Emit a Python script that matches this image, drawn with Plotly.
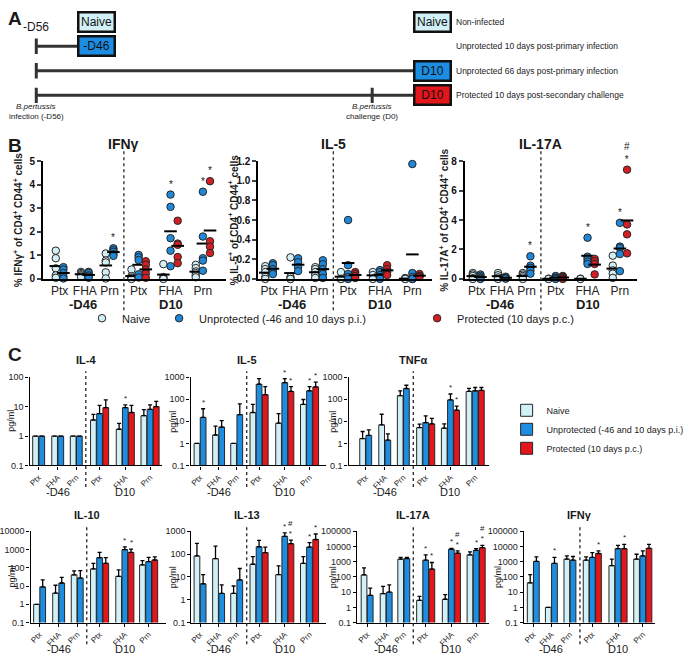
import plotly.graph_objects as go
import numpy as np

W, H = 689, 660
FONT = "Arial, Liberation Sans, sans-serif"

def PX(p):
    return p / W

def PY(p):
    return 1 - p / H

# ======================= DATA =======================
groups = ["Ptx", "FHA", "Prn", "Ptx", "FHA", "Prn"]
timepoints = ["-D46", "D10"]
series_names = ["Naive", "Unprotected (-46 and 10 days p.i.)", "Protected (10 days p.c.)"]

# ---- Panel A: study design ----
design_labels = ["Non-infected", "Unprotected 10 days post-primary infection",
                 "Unprotected 66 days post-primary infection",
                 "Protected 10 days post-secondary challenge"]
infection_day = [None, -56, -56, -56]
harvest_day = [None, -46, 10, 10]
challenge_day = [None, None, None, 0]
harvest_box = ["Naive", "-D46", "D10", "D10"]
naive_box_days = [-46, 10]

# ---- Panel B: % cytokine+ of CD4+CD44+ cells (columns: -D46 Ptx,FHA,Prn ; D10 Ptx,FHA,Prn) ----
ifng_naive = [[1.2, 0.88, 0.45, 0.15, 0.05], [0.3, 0.25, 0.2, 0.15, 0.1],
              [1.08, 0.78, 0.7, 0.28, 0.02], [0.4, 0.12, 0.06, 0.02, 0.0],
              [0.63, 0.08, 0.03, 0.0], [0.6, 0.46, 0.32, 0.25, 0.15, 0.07]]
ifng_unprot = [[0.5, 0.4, 0.25, 0.1, 0.02], [0.3, 0.25, 0.15, 0.1, 0.05],
               [1.3, 1.22, 1.15, 1.05, 0.98], [1.02, 0.92, 0.8, 0.2, 0.06],
               [3.58, 3.06, 1.73, 1.2, 0.54], [3.7, 1.8, 0.88, 0.78, 0.35]]
ifng_prot = [[0.75, 0.6, 0.4, 0.23, 0.05], [2.47, 1.5, 1.45, 0.93, 0.67],
             [4.15, 1.6, 1.37, 1.1]]
ifng_sig = [(2, 1, "*"), (4, 1, "*"), (5, 1, "*"), (5, 2, "*")]

il5_naive = [[0.13, 0.1, 0.07, 0.02, 0.0], [0.22, 0.02, 0.0, 0.0],
             [0.12, 0.1, 0.07, 0.04, 0.01], [0.07, 0.0, 0.0],
             [0.07, 0.04, 0.0], [0.01, 0.0, 0.0]]
il5_unprot = [[0.16, 0.14, 0.1, 0.07, 0.05], [0.21, 0.17, 0.12, 0.08],
              [0.19, 0.15, 0.1, 0.05, 0.01], [0.6, 0.14, 0.05, 0.02, 0.0],
              [0.09, 0.07, 0.04, 0.02, 0.0], [1.17, 0.06, 0.02, 0.0, 0.0]]
il5_prot = [[0.07, 0.05, 0.03, 0.01], [0.14, 0.1, 0.07, 0.04], [0.05, 0.03, 0.02]]
il5_sig = []

il17_naive = [[0.4, 0.3, 0.2, 0.05, 0.0], [0.4, 0.25, 0.1, 0.0],
              [0.4, 0.3, 0.2, 0.1, 0.0], [0.02, 0.0], [0.02, 0.0],
              [1.58, 0.91, 0.58, 0.36, 0.07]]
il17_unprot = [[0.3, 0.2, 0.1, 0.05, 0.0], [0.15, 0.1, 0.05, 0.02],
               [1.54, 0.9, 0.76, 0.58, 0.36], [0.2, 0.1, 0.05, 0.0],
               [2.8, 1.51, 1.36, 1.18, 1.02], [3.81, 2.2, 2.1, 1.69, 0.53]]
il17_prot = [[0.2, 0.15, 0.1, 0.05, 0.0], [1.36, 1.2, 1.02, 0.31], [7.42, 3.7, 3.03, 1.74]]
il17_sig = [(2, 1, "*"), (4, 1, "*"), (5, 1, "*"), (5, 2, "#<br>*")]

ifng_ticks = [0, 1, 2, 3, 4, 5]
il5_ticks = [0.0, 0.2, 0.4, 0.6, 0.8, 1.0, 1.2]
il17_ticks = [0, 2, 4, 6, 8]

# ---- Panel C: cytokine secretion, pg/ml (mean and SEM) ----
c_il4_naive = [1, 1, 1, 3.5, 1.7, 4.9];        c_il4_naive_sem = [0, 0, 0, 1.9, 1.0, 3.0]
c_il4_unprot = [1, 1, 1, 5.8, 9.2, 8.1];       c_il4_unprot_sem = [0, 0, 0, 5.2, 2.3, 3.4]
c_il4_prot = [9.2, 6.3, 10];                   c_il4_prot_sem = [7.8, 4.7, 5]
c_il4_sig = [(4, 1, "*")]

c_il5_naive = [1, 2.4, 1, 25, 8.2, 58];        c_il5_naive_sem = [0, 3.6, 0, 33, 14, 39]
c_il5_unprot = [15, 5.5, 20, 475, 560, 240];   c_il5_unprot_sem = [22, 5.2, 42, 375, 290, 130]
c_il5_prot = [160, 225, 360];                  c_il5_prot_sem = [210, 145, 240]
c_il5_sig = [(0, 1, "*"), (4, 1, "*"), (4, 2, "*"), (5, 1, "*"), (5, 2, "*")]

c_tnf_naive = [1.66, 6.9, 145, 5.2, 4.9, 225];  c_tnf_naive_sem = [1.8, 14, 95, 2.2, 2.7, 85]
c_tnf_unprot = [2.3, 1.4, 306, 8.7, 93, 240];   c_tnf_unprot_sem = [1.8, 1.3, 124, 9, 79, 100]
c_tnf_prot = [7.6, 31.6, 250];                  c_tnf_prot_sem = [5.9, 17, 90]
c_tnf_sig = [(4, 1, "*"), (4, 2, "*")]

c_il10_naive = [1, 4.1, 41, 87, 34, 144];        c_il10_naive_sem = [0, 7, 27, 89, 43, 102]
c_il10_unprot = [9, 14.7, 27.5, 356, 1000, 217]; c_il10_unprot_sem = [13, 15, 43, 334, 400, 155]
c_il10_prot = [176, 690, 268];                   c_il10_prot_sem = [180, 360, 132]
c_il10_sig = [(4, 1, "*"), (4, 2, "*")]

c_il13_naive = [83, 63, 1.9, 36, 12.6, 39];      c_il13_naive_sem = [212, 161, 2.1, 42, 18, 39]
c_il13_unprot = [5, 1.9, 7.4, 210, 600, 204];    c_il13_unprot_sem = [7.6, 2.6, 16, 190, 250, 112]
c_il13_prot = [116, 285, 436];                   c_il13_prot_sem = [88, 125, 324]
c_il13_sig = [(4, 1, "*"), (4, 2, "#<br>*"), (5, 1, "*"), (5, 2, "*")]

c_il17_naive = [135, 8, 1480, 2.9, 3.4, 2800];      c_il17_naive_sem = [255, 16, 420, 2.4, 3.5, 1600]
c_il17_unprot = [6.2, 10, 1630, 1260, 6600, 5600];  c_il17_unprot_sem = [12.4, 20, 270, 1540, 1000, 1600]
c_il17_prot = [330, 3600, 8300];                    c_il17_prot_sem = [560, 1500, 3700]
c_il17_sig = [(3, 1, "*"), (3, 2, "*"), (4, 1, "*"), (4, 2, "#<br>*"), (5, 1, "*"), (5, 2, "#<br>*")]

c_ifng_naive = [41, 1, 1480, 1260, 550, 1480];      c_ifng_naive_sem = [101, 0, 920, 840, 930, 1620]
c_ifng_unprot = [1050, 776, 1260, 1900, 7200, 2400]; c_ifng_unprot_sem = [1050, 1124, 940, 2100, 4800, 2700]
c_ifng_prot = [3460, 7200, 7600];                   c_ifng_prot_sem = [1640, 6600, 6200]
c_ifng_sig = [(1, 1, "*"), (3, 2, "*"), (4, 2, "*")]

log_ticks = [0.1, 1, 10, 100, 1000, 10000, 100000]
log_tick_text = ["0.1", "1", "10", "100", "1000", "10000", "100000"]

# ======================= STYLE =======================
C_NAIVE = "#d2f1f7"
C_BLUE = "#1d8de2"
C_RED = "#e3161c"
B_COLORS = ["#d4eef5", "#1f88d8", "#d11f25"]
BAR_COLORS = [C_NAIVE, C_BLUE, C_RED]
EDGE = "#262626"
DASH = "3px,3px"

fig = go.Figure()
annotations = []
shapes = []
layout = dict(width=W, height=H, margin=dict(l=0, r=0, t=0, b=0, pad=0),
              paper_bgcolor="white", plot_bgcolor="rgba(0,0,0,0)",
              font=dict(family=FONT, color="#1a1a1a"), barmode="overlay",
              showlegend=True, hovermode=False)


def ann(x, y, text, size=10, bold=False, xanchor="center", yanchor="middle", **kw):
    t = f"<b>{text}</b>" if bold else text
    d = dict(x=x, y=y, xref=kw.pop("xref", "paper"), yref=kw.pop("yref", "paper"), text=t,
             showarrow=False, font=dict(size=size, family=FONT, color=kw.pop("color", "#1a1a1a")),
             xanchor=xanchor, yanchor=yanchor)
    d.update(kw)
    annotations.append(d)


# ======================= PANEL A =======================
PX_PER_DAY = 6.3
A_X0 = 36  # pixel of day -56
a_range = [-56 - A_X0 / PX_PER_DAY, -56 + (W - A_X0) / PX_PER_DAY]
ROW_PX0, ROW_STEP = 16, 25
a_ytop, a_ybot = 0, 120
a_yrange = [1 + (a_ybot - ROW_PX0) / ROW_STEP, 1 + (a_ytop - ROW_PX0) / ROW_STEP]
layout["xaxis"] = dict(domain=[0, 1], range=a_range, visible=False, fixedrange=True)
layout["yaxis"] = dict(domain=[PY(a_ybot), PY(a_ytop)], range=a_yrange, visible=False, fixedrange=True)

for r in range(4):
    row = r + 1
    if infection_day[r] is not None:
        fig.add_trace(go.Scatter(x=[infection_day[r], harvest_day[r]], y=[row, row], mode="lines",
                                 line=dict(color="#333333", width=3), showlegend=False,
                                 xaxis="x", yaxis="y", hoverinfo="skip"))
        ticks = [infection_day[r]] + ([challenge_day[r]] if challenge_day[r] is not None else [])
        fig.add_trace(go.Scatter(x=ticks, y=[row] * len(ticks), mode="markers",
                                 marker=dict(symbol="line-ns", size=11, line=dict(color="#333333", width=3)),
                                 showlegend=False, xaxis="x", yaxis="y", hoverinfo="skip"))
    ann(475 / W, row, design_labels[r], size=8.5, xanchor="left", yref="y", color="#222222")

for d in naive_box_days:
    annotations.append(dict(x=d, y=1, xref="x", yref="y", text="Naive", showarrow=False,
                            font=dict(size=12, family=FONT, color="#111"), bgcolor=C_NAIVE,
                            bordercolor="#111111", borderwidth=2.5, borderpad=1, width=32, height=15))
for r in range(1, 4):
    fill = C_RED if challenge_day[r] is not None else C_BLUE
    annotations.append(dict(x=harvest_day[r], y=r + 1, xref="x", yref="y", text=harvest_box[r],
                            showarrow=False, font=dict(size=12, family=FONT, color="#111"), bgcolor=fill,
                            bordercolor="#111111", borderwidth=2.5, borderpad=1, width=32, height=15))

ann(-56, PY(21), "-D56", size=12, xref="x")
ann(-56, PY(102), "<i>B.pertussis</i>", size=8, xref="x")
ann(-56, PY(113), "infection (-D56)", size=8, xref="x")
ann(0, PY(102), "<i>B.pertussis</i>", size=8, xref="x")
ann(0, PY(113), "challenge (D0)", size=8, xref="x")

# panel letters
ann(PX(4), PY(13), "A", size=19, bold=True, xanchor="left")
ann(PX(4), PY(142), "B", size=19, bold=True, xanchor="left")
ann(PX(4), PY(355), "C", size=19, bold=True, xanchor="left")

# ======================= PANEL B =======================
B_TOP, B_BOT = 158, 278
B_GROUP_OFF = [-67.5, -41, -15, 15.5, 49, 83]
b_specs = [
    dict(title="IFNγ", ylab="% IFNγ<sup>+</sup> of CD4<sup>+</sup> CD44<sup>+</sup> cells",
         data=[ifng_naive, ifng_unprot, ifng_prot], sig=ifng_sig, ticks=ifng_ticks, fmt="{:g}",
         dash=128, x0=43, x1=235, ylx=17),
    dict(title="IL-5", ylab="% IL-5<sup>+</sup> of CD4<sup>+</sup> CD44<sup>+</sup> cells",
         data=[il5_naive, il5_unprot, il5_prot], sig=il5_sig, ticks=il5_ticks, fmt="{:.1f}",
         dash=348, x0=269, x1=452, ylx=243),
    dict(title="IL-17A", ylab="% IL-17A<sup>+</sup> of CD4<sup>+</sup> CD44<sup>+</sup> cells",
         data=[il17_naive, il17_unprot, il17_prot], sig=il17_sig, ticks=il17_ticks, fmt="{:g}",
         dash=566, x0=486, x1=667, ylx=464),
]
legend_ids = ["legend", "legend2", "legend3"]

for i, sp in enumerate(b_specs):
    n = 2 + i
    xa, ya = f"x{n}", f"y{n}"
    centers = [sp["dash"] + o for o in B_GROUP_OFF]

    def col_x(g, s, centers=centers):
        if g < 3:
            return centers[g] + (-4 if s == 0 else 4)
        return centers[g] + (s - 1) * 7.5

    layout[f"xaxis{n}"] = dict(domain=[PX(sp["x0"]), PX(sp["x1"])], range=[sp["x0"], sp["x1"]],
                               anchor=ya, showline=True, linewidth=1.6, linecolor="black",
                               ticks="", tickvals=centers, ticktext=groups, showgrid=False,
                               zeroline=False, tickfont=dict(size=12, color="#222"), fixedrange=True)
    layout[f"yaxis{n}"] = dict(domain=[PY(B_BOT), PY(B_TOP)], range=[0, max(sp["ticks"])], anchor=xa,
                               showline=True, linewidth=1.6, linecolor="black", ticks="outside",
                               ticklen=4, tickwidth=1.5, tickvals=sp["ticks"],
                               ticktext=["<b>" + sp["fmt"].format(v) + "</b>" for v in sp["ticks"]],
                               showgrid=False, zeroline=False,
                               tickfont=dict(size=10, color="#111"), fixedrange=True)
    for s, data in enumerate(sp["data"]):
        gids = [3, 4, 5] if s == 2 else list(range(6))
        xs, ys = [], []
        for k, g in enumerate(gids):
            xs += [col_x(g, s)] * len(data[k])
            ys += data[k]
        fig.add_trace(go.Scatter(x=xs, y=ys, mode="markers", name=series_names[s],
                                 marker=dict(size=7.5, color=B_COLORS[s], line=dict(color=EDGE, width=1)),
                                 xaxis=xa, yaxis=ya, cliponaxis=False, showlegend=(i == 0),
                                 legend=legend_ids[s], hoverinfo="skip"))
        mx = [col_x(g, s) for g in gids]
        my = [float(np.mean(data[k])) for k in range(len(gids))]
        fig.add_trace(go.Scatter(x=mx, y=my, mode="markers",
                                 marker=dict(symbol="line-ew", size=9, line=dict(color="black", width=2)),
                                 xaxis=xa, yaxis=ya, cliponaxis=False, showlegend=False, hoverinfo="skip"))
    for (g, s, txt) in sp["sig"]:
        col = sp["data"][s][g - 3 if s == 2 else g]
        ann(col_x(g, s), max(col), txt, size=10, xref=xa, yref=ya, yanchor="bottom", yshift=3)
    shapes.append(dict(type="line", xref=xa, yref="paper", x0=sp["dash"], x1=sp["dash"],
                       y0=PY(310), y1=PY(148), line=dict(color="#333", width=1.4, dash=DASH)))
    ann(PX(sp["dash"]), PY(141), sp["title"], size=14, bold=True)
    ann(PX(sp["ylx"]), PY((B_TOP + B_BOT) / 2), sp["ylab"], size=10, bold=True, textangle=-90)
    ann(PX(sp["dash"] - 43), PY(304), timepoints[0], size=13, bold=True)
    ann(PX(sp["dash"] + 49), PY(304), timepoints[1], size=13, bold=True)

layout["legend"] = dict(x=PX(84), y=PY(318), xanchor="left", yanchor="middle", orientation="h",
                        font=dict(size=11), bgcolor="rgba(0,0,0,0)", itemwidth=30)
layout["legend2"] = dict(x=PX(165), y=PY(318), xanchor="left", yanchor="middle", orientation="h",
                         font=dict(size=11), bgcolor="rgba(0,0,0,0)", itemwidth=30)
layout["legend3"] = dict(x=PX(436), y=PY(318), xanchor="left", yanchor="middle", orientation="h",
                         font=dict(size=11), bgcolor="rgba(0,0,0,0)", itemwidth=30)

# ======================= PANEL C =======================
C_ROWS = {1: (378, 468), 2: (535, 628)}
STD = [208, 227.5, 246.5, 270, 297, 323]
c_specs = [
    dict(title="IL-4", m=[c_il4_naive, c_il4_unprot, c_il4_prot], e=[c_il4_naive_sem, c_il4_unprot_sem, c_il4_prot_sem],
         sig=c_il4_sig, row=1, x0=29, x1=168, centers=[38.5, 58.5, 78, 102.5, 129.5, 155.5], dash=88, top=2, ylx=10),
    dict(title="IL-5", m=[c_il5_naive, c_il5_unprot, c_il5_prot], e=[c_il5_naive_sem, c_il5_unprot_sem, c_il5_prot_sem],
         sig=c_il5_sig, row=1, x0=198, x1=340, centers=STD, dash=257, top=3, ylx=180),
    dict(title="TNFα", m=[c_tnf_naive, c_tnf_unprot, c_tnf_prot], e=[c_tnf_naive_sem, c_tnf_unprot_sem, c_tnf_prot_sem],
         sig=c_tnf_sig, row=1, x0=364, x1=512, centers=[382, 402, 421.5, 445, 471, 497], dash=432, top=3, ylx=348),
    dict(title="IL-10", m=[c_il10_naive, c_il10_unprot, c_il10_prot], e=[c_il10_naive_sem, c_il10_unprot_sem, c_il10_prot_sem],
         sig=c_il10_sig, row=2, x0=30, x1=172, centers=[39.5, 59.5, 79, 102.5, 129, 154], dash=89, top=4, ylx=10),
    dict(title="IL-13", m=[c_il13_naive, c_il13_unprot, c_il13_prot], e=[c_il13_naive_sem, c_il13_unprot_sem, c_il13_prot_sem],
         sig=c_il13_sig, row=2, x0=199, x1=340, centers=STD, dash=257, top=3, ylx=180),
    dict(title="IL-17A", m=[c_il17_naive, c_il17_unprot, c_il17_prot], e=[c_il17_naive_sem, c_il17_unprot_sem, c_il17_prot_sem],
         sig=c_il17_sig, row=2, x0=373, x1=512, centers=[383.5, 403.5, 422, 445, 472, 498], dash=432, top=5, ylx=348),
    dict(title="IFNγ", m=[c_ifng_naive, c_ifng_unprot, c_ifng_prot], e=[c_ifng_naive_sem, c_ifng_unprot_sem, c_ifng_prot_sem],
         sig=c_ifng_sig, row=2, x0=548, x1=686, centers=[558, 577, 596.5, 620, 647, 673], dash=607, top=5, ylx=521),
]

for i, sp in enumerate(c_specs):
    n = 5 + i
    xa, ya = f"x{n}", f"y{n}"
    ytop, ybot = C_ROWS[sp["row"]]
    centers = sp["centers"]

    def bar_x(g, s, centers=centers):
        if g < 3:
            return centers[g] + (-3.25 if s == 0 else 3.25)
        return centers[g] + (s - 1) * 6.5

    layout[f"xaxis{n}"] = dict(domain=[PX(sp["x0"]), PX(sp["x1"])], range=[sp["x0"], sp["x1"]],
                               anchor=ya, showline=True, linewidth=1.4, linecolor="black",
                               ticks="outside", ticklen=3, tickwidth=1, tickcolor="black",
                               tickvals=centers, ticktext=groups, tickangle=-45, showgrid=False,
                               zeroline=False, tickfont=dict(size=8, color="#222"), fixedrange=True)
    nt = sp["top"] + 2
    layout[f"yaxis{n}"] = dict(domain=[PY(ybot), PY(ytop)], type="log", range=[-1, sp["top"]], anchor=xa,
                               showline=True, linewidth=1.4, linecolor="black", ticks="outside",
                               ticklen=3, tickwidth=1, tickcolor="black",
                               tickvals=log_ticks[:nt], ticktext=log_tick_text[:nt], showgrid=False,
                               zeroline=False, tickfont=dict(size=9, color="#222"), fixedrange=True)
    for s in range(3):
        gids = [3, 4, 5] if s == 2 else list(range(6))
        fig.add_trace(go.Bar(x=[bar_x(g, s) for g in gids], y=sp["m"][s], width=6, name=series_names[s],
                             marker=dict(color=BAR_COLORS[s], line=dict(color=EDGE, width=1)),
                             error_y=dict(type="data", array=sp["e"][s], arrayminus=[0] * len(gids),
                                          symmetric=False, color="black", thickness=1.3, width=2),
                             xaxis=xa, yaxis=ya, showlegend=(i == 0), legend="legend4",
                             hoverinfo="skip"))
    for (g, s, txt) in sp["sig"]:
        k = g - 3 if s == 2 else g
        topv = sp["m"][s][k] + sp["e"][s][k]
        ann(bar_x(g, s), float(np.log10(topv)), txt, size=8, xref=xa, yref=ya, yanchor="bottom", yshift=0)
    shapes.append(dict(type="line", xref=xa, yref="paper", x0=sp["dash"], x1=sp["dash"],
                       y0=PY(ybot + 22), y1=PY(ytop - 6), line=dict(color="#333", width=1.4, dash=DASH)))
    ann(PX(sp["dash"]), PY(ytop - 17), sp["title"], size=11, bold=True)
    ann(PX(sp["ylx"]), PY((ytop + ybot) / 2), "pg/ml", size=9, textangle=-90)
    ann(PX(centers[1]), PY(ybot + 27), timepoints[0], size=11)
    ann(PX(centers[4]), PY(ybot + 27), timepoints[1], size=11)

layout["legend4"] = dict(x=PX(530), y=PY(397), xanchor="left", yanchor="top", orientation="v",
                         font=dict(size=9), bgcolor="rgba(0,0,0,0)", tracegroupgap=0, itemwidth=30)

layout["annotations"] = annotations
layout["shapes"] = shapes
fig.update_layout(**layout)
fig.write_html("out.html", config={"displayModeBar": False},
               post_script="document.body.style.margin='0px';document.body.style.overflow='hidden';")
